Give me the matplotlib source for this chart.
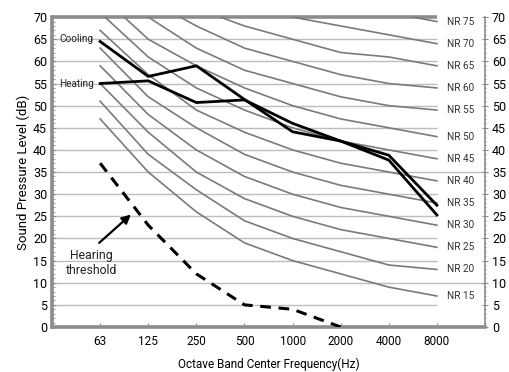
import matplotlib.pyplot as plt
import numpy as np

plt.rcParams["font.family"] = ["Roboto", "DejaVu Sans"]

freq_labels = ["63", "125", "250", "500", "1000", "2000", "4000", "8000"]

# NR curves (dB per octave band)
nr_levels = [15, 20, 25, 30, 35, 40, 45, 50, 55, 60, 65, 70, 75]
nr_values = [
    [47, 35, 26, 19, 15, 12, 9, 7],
    [51, 39, 31, 24, 20, 17, 14, 13],
    [55, 44, 35, 29, 25, 22, 20, 18],
    [59, 48, 40, 34, 30, 27, 25, 23],
    [63, 52, 45, 39, 35, 32, 30, 28],
    [67, 57, 49, 44, 40, 37, 35, 33],
    [71, 61, 54, 49, 45, 42, 40, 38],
    [75, 65, 59, 54, 50, 47, 45, 43],
    [79, 70, 63, 58, 55, 52, 50, 49],
    [83, 74, 68, 63, 60, 57, 55, 54],
    [87, 78, 72, 68, 65, 62, 61, 59],
    [91, 83, 77, 73, 70, 68, 66, 64],
    [95, 87, 82, 78, 75, 73, 71, 69],
]

cooling = [64.5, 56.6, 59.0, 51.4, 44.1, 42.0, 38.8, 27.5]
heating = [55.0, 55.6, 50.7, 51.3, 46.0, 42.0, 37.7, 25.3]

threshold = [37, 23, 12, 5, 4, 0]

GRAY = "#7a7a7a"
GRID = "#bdbdbd"
AXIS = "#8c8c8c"

fig = plt.figure(figsize=(5.10, 3.72), dpi=100)
ax = fig.add_axes([0.102, 0.121, 0.849, 0.833])
x = np.arange(len(freq_labels))

# horizontal grid
for yv in range(5, 70, 5):
    xe = 8 if yv in (10, 35) else 7
    ax.plot([-1, xe], [yv, yv], color=GRID, lw=1.0, zorder=1, solid_capstyle="butt")
ax.plot([-1, 7], [70, 70], color=AXIS, lw=2.6, zorder=2, clip_on=False,
        solid_capstyle="butt")

# NR curves
for lvl, vals in zip(nr_levels, nr_values):
    ax.plot(x, vals, color=GRAY, lw=1.2, zorder=2)
    ax.text(7.2, vals[-1], f"NR {lvl}", fontsize=7.2, va="center", ha="left",
            color="#333333")

# operating curves
ax.plot(x, cooling, color="black", lw=2.0, zorder=4)
ax.plot(x, heating, color="black", lw=2.0, zorder=4)
ax.text(-0.15, 65.0, "Cooling", fontsize=7.2, ha="right", va="center",
        color="#222222")
ax.text(-0.12, heating[0], "Heating", fontsize=7.2, ha="right", va="center",
        color="#222222")

# hearing threshold
ax.plot(x[:len(threshold)], threshold, color="black", lw=2.2, ls=(0, (3.5, 2.5)),
        zorder=4)
ax.text(-0.18, 14.4, "Hearing\nthreshold", fontsize=8.8, ha="center",
        va="center", color="#222222", linespacing=1.15)
ax.annotate("", xy=(0.64, 25.4), xytext=(-0.02, 19.0),
            arrowprops=dict(arrowstyle="-|>", color="black", lw=1.6,
                            mutation_scale=13, shrinkA=0, shrinkB=0))

ax.set_xlim(-1, 8)
ax.set_ylim(0, 70)
ax.set_xticks(x)
ax.set_xticklabels(freq_labels)
ax.set_yticks(range(0, 71, 5))
ax.set_yticks(range(0, 71, 1), minor=True)
ax.tick_params(axis="x", direction="in", length=3, color=AXIS, labelsize=8.5,
               pad=6)
ax.tick_params(axis="y", which="major", direction="in", length=3, color=AXIS,
               labelsize=9)
ax.tick_params(axis="y", which="minor", direction="in", length=2, color=AXIS)

for s in ["top", "right"]:
    ax.spines[s].set_visible(False)
for s in ["left", "bottom"]:
    ax.spines[s].set_color(AXIS)
    ax.spines[s].set_linewidth(2.6)

ax.set_xlabel("Octave Band Center Frequency(Hz)", fontsize=8.5, labelpad=7)
ax.set_ylabel("Sound Pressure Level (dB)", fontsize=9.5, labelpad=2)

# right-hand scale
ax2 = ax.twinx()
ax2.set_ylim(0, 70)
ax2.set_yticks(range(0, 71, 5))
ax2.set_yticks(range(0, 71, 1), minor=True)
ax2.tick_params(axis="y", which="major", direction="inout", length=4, color=AXIS,
                labelsize=9, pad=3)
ax2.tick_params(axis="y", which="minor", direction="inout", length=2, color=AXIS)
for s in ["top", "left", "bottom"]:
    ax2.spines[s].set_visible(False)
ax2.spines["right"].set_color(AXIS)
ax2.spines["right"].set_linewidth(1.2)

fig.savefig("out.png", dpi=100)
